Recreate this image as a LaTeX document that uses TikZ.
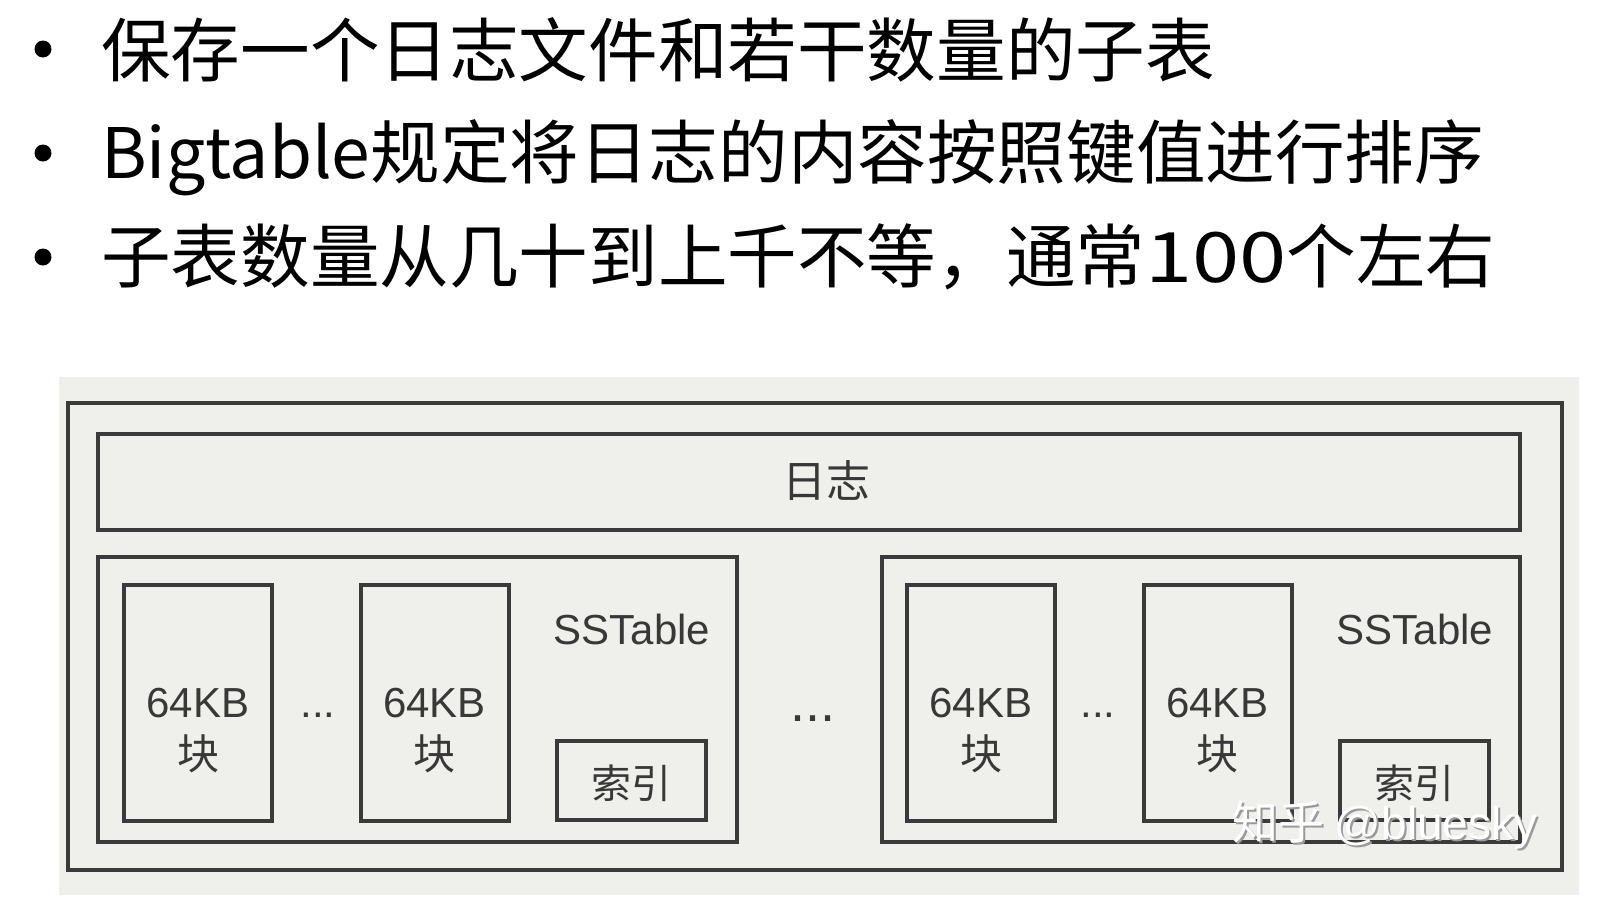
\documentclass[tikz,border=0pt]{standalone}
\usepackage{fontspec}
\setmainfont{Liberation Sans}
\newfontfamily\cjk{Noto Sans CJK SC}
\newfontfamily\lat{Liberation Sans}
\definecolor{bgc}{HTML}{EFEFEB}
\definecolor{linec}{HTML}{3A3A3A}
\definecolor{txtc}{HTML}{383838}
\definecolor{shadowc}{HTML}{9A9A9A}
\begin{document}
\begin{tikzpicture}[x=1pt,y=-1pt,
  bigline/.style={anchor=base west, inner sep=0pt, text=black,
    font=\cjk\fontsize{69.6}{70}\selectfont},
  bulletdot/.style={circle, fill=black, inner sep=0pt, minimum size=17pt},
  box/.style={draw=linec, line width=4pt, inner sep=0pt, rectangle},
  lbl/.style={inner sep=0pt, text=txtc},
  latlbl/.style={lbl, font=\lat\fontsize{42}{44}\selectfont},
  cjklbl/.style={lbl, font=\cjk\fontsize{42}{44}\selectfont},
  idxlbl/.style={lbl, font=\cjk\fontsize{40}{42}\selectfont},
  wm/.style={inner sep=0pt, font=\cjk\fontsize{46}{48}\selectfont}
]
\useasboundingbox (0,0) rectangle (1616,911);
\fill[white] (0,0) rectangle (1616,911);

% bullet lines
\node[bulletdot] (b1) at (43,49) {};
\node[bulletdot] (b2) at (43,153) {};
\node[bulletdot] (b3) at (43,257) {};
\node[bigline] (t1) at (101,76) {保存一个日志文件和若干数量的子表};
\node[bigline] (t2) at (101,178) {Bigtable规定将日志的内容按照键值进行排序};
\node[bigline] (t3) at (101,282) {子表数量从几十到上千不等，通常\scalebox{1.22}[1]{100}个左右};

% background panel
\fill[bgc] (59,377) rectangle (1579,895);

% boxes
\node[box, minimum width=1494pt, minimum height=467pt] (outer) at (815,636.5) {};
\node[box, minimum width=1422pt, minimum height=96pt] (log) at (809,482) {};
\node[box, minimum width=638.5pt, minimum height=285pt] (sstL) at (417.25,699.5) {};
\node[box, minimum width=638.5pt, minimum height=285pt] (sstR) at (1201,699.5) {};
\node[box, minimum width=148pt, minimum height=235.5pt] (blkL1) at (198,702.75) {};
\node[box, minimum width=148pt, minimum height=235.5pt] (blkL2) at (434.5,702.75) {};
\node[box, minimum width=149pt, minimum height=79.5pt] (idxL) at (631.5,780.25) {};
\node[box, minimum width=148pt, minimum height=235.5pt] (blkR1) at (981,702.75) {};
\node[box, minimum width=148pt, minimum height=235.5pt] (blkR2) at (1217.5,702.75) {};
\node[box, minimum width=149pt, minimum height=79.5pt] (idxR) at (1414.5,780.25) {};

% labels
\node[lbl, font=\cjk\fontsize{44}{46}\selectfont] (logtxt) at (826,481) {日志};
\node[latlbl] (sstLt) at (632,629) {SSTable};
\node[latlbl] (sstRt) at (1415,629) {SSTable};
\node[latlbl] (kbL1) at (198,703) {64KB};
\node[cjklbl] (kuaiL1) at (198,754) {块};
\node[latlbl] (kbL2) at (434.5,703) {64KB};
\node[cjklbl] (kuaiL2) at (434.5,754) {块};
\node[latlbl] (kbR1) at (981,703) {64KB};
\node[cjklbl] (kuaiR1) at (981,754) {块};
\node[latlbl] (kbR2) at (1217.5,703) {64KB};
\node[cjklbl] (kuaiR2) at (1217.5,754) {块};
\node[idxlbl] (idxLt) at (631.5,783.5) {索引};
\node[idxlbl] (idxRt) at (1414.5,783.5) {索引};
\node[latlbl, anchor=base] (dotsL) at (318,717) {...};
\node[latlbl, anchor=base] (dotsR) at (1098,717) {...};
\node[lbl, font=\lat\fontsize{54}{56}\selectfont, anchor=base] (dotsM) at (813,721) {...};

% watermark
\node[wm, text=shadowc] (wmshadow) at (1387,827) {知乎 {\lat @bluesky}};
\node[wm, text=white] (wmark) at (1385,825) {知乎 {\lat @bluesky}};
\end{tikzpicture}
\end{document}
